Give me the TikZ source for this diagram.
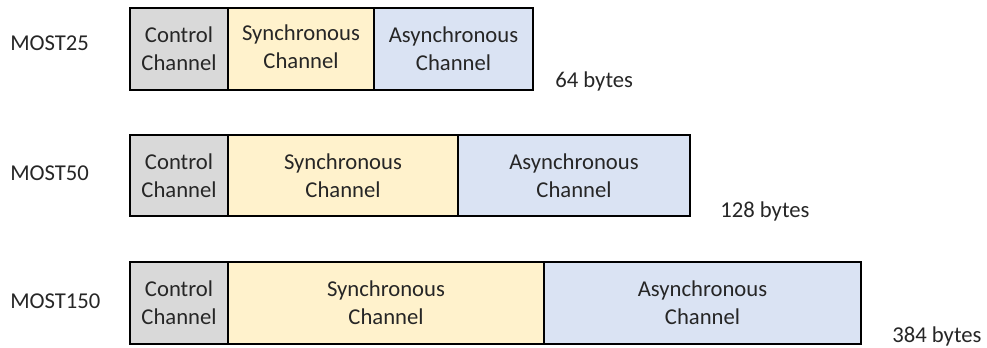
\documentclass[tikz,border=0pt]{standalone}
\usepackage{fontspec}
\setmainfont{Carlito}
\definecolor{ctrlgray}{HTML}{D9D9D9}
\definecolor{syncyel}{HTML}{FFF2CC}
\definecolor{asyncblue}{HTML}{DAE3F3}
\definecolor{txt}{HTML}{262626}
\begin{document}
\begin{tikzpicture}[x=0.75pt,y=-0.75pt,
  every node/.style={font=\fontsize{17}{21}\selectfont, text=txt},
  cell/.style={draw=black, line width=1.1pt, rectangle, inner sep=0pt, align=center},
  ctrl/.style={cell, fill=ctrlgray, minimum width=73.5pt},
  sync/.style={cell, fill=syncyel},
  async/.style={cell, fill=asyncblue},
  rowlabel/.style={anchor=base west, inner sep=0pt},
  sizelabel/.style={anchor=base west, inner sep=0pt}]
\useasboundingbox (0,0) rectangle (987,347);
% Row 1
\node[ctrl, minimum height=61.5pt] (c1) at (179,49) {Control\\Channel};
\node[sync, minimum height=61.5pt, minimum width=109.5pt] (s1) at (301,49)
  {\raisebox{4.5pt}{\begin{tabular}{@{}c@{}}Synchronous\\Channel\end{tabular}}};
\node[async, minimum height=61.5pt, minimum width=119.25pt] (a1) at (453.5,49) {Asynchronous\\Channel};
\node[rowlabel] (l1) at (10,50) {MOST25};
\node[sizelabel] (b1) at (555,87) {64 bytes};
% Row 2
\node[ctrl, minimum height=60.75pt] (c2) at (179,175.5) {Control\\Channel};
\node[sync, minimum height=60.75pt, minimum width=172.5pt] (s2) at (343,175.5) {Synchronous\\Channel};
\node[async, minimum height=60.75pt, minimum width=174pt] (a2) at (574,175.5) {Asynchronous\\Channel};
\node[rowlabel] (l2) at (10,180) {MOST50};
\node[sizelabel] (b2) at (720,217) {128 bytes};
% Row 3
\node[ctrl, minimum height=61.5pt] (c3) at (179,303) {Control\\Channel};
\node[sync, minimum height=61.5pt, minimum width=237pt] (s3) at (386,303) {Synchronous\\Channel};
\node[async, minimum height=61.5pt, minimum width=237.75pt] (a3) at (702.5,303) {Asynchronous\\Channel};
\node[rowlabel] (l3) at (10,308) {MOST150};
\node[sizelabel] (b3) at (892,342) {384 bytes};
\end{tikzpicture}
\end{document}
